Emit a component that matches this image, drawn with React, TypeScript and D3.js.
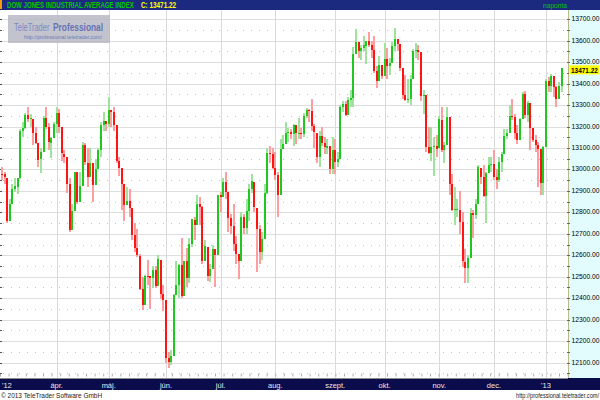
import React from 'react';
import * as d3 from 'd3';

// month tick labels (Hungarian) and the index of the first trading day of each month
const monthLabels = ["'12", 'ápr.', 'máj.', 'jún.', 'júl.', 'aug.', 'szept.', 'okt.', 'nov.', 'dec.', "'13"];
const monthStarts = [0, 22, 42, 64, 85, 106, 129, 148, 169, 190, 210];

const yTicks = [13700, 13600, 13500, 13400, 13300, 13200, 13100, 13000, 12900, 12800, 12700, 12600, 12500, 12400, 12300, 12200, 12100];

const lastClose = 13471.22;

// daily OHLC, Mar 2012 .. Jan 10 2013 (one line per month)
const opens = [
  12952, 12980, 12977, 12962, 12760, 12838, 12907, 12920, 12960, 13178, 13194, 13253, 13233, 13237, 13170, 13124, 13047, 13082, 13242, 13197, 13125, 13146,
  13212, 13264, 13199, 13074, 13060, 12930, 12716, 12806, 12986, 12850, 12922, 13115, 13032, 12965, 13028, 12928, 13002, 13091, 13205, 13228,
  13214, 13278, 13268, 13206, 13038, 13008, 12931, 12835, 12855, 12820, 12695, 12632, 12598, 12442, 12369, 12504, 12502, 12496, 12530, 12455, 12580, 12420,
  12392, 12119, 12101, 12128, 12415, 12460, 12554, 12412, 12574, 12496, 12652, 12766, 12742, 12837, 12824, 12574, 12640, 12502, 12535, 12627, 12602,
  12880, 12871, 12943, 12896, 12772, 12736, 12653, 12604, 12573, 12776, 12727, 12805, 12909, 12943, 12822, 12721, 12617, 12676, 12888, 13076, 13073,
  13009, 12975, 12879, 13096, 13118, 13168, 13175, 13165, 13207, 13169, 13172, 13165, 13250, 13275, 13271, 13203, 13172, 13056, 13158, 13124, 13102, 13107, 13000,
  13091, 13035, 13047, 13292, 13306, 13254, 13324, 13333, 13540, 13593, 13552, 13565, 13577, 13597, 13579, 13559, 13457, 13414, 13485,
  13437, 13515, 13482, 13494, 13575, 13610, 13583, 13473, 13345, 13326, 13329, 13424, 13552, 13557, 13548, 13343, 13345, 13103, 13078, 13103, 13107,
  13099, 13232, 13092, 13113, 13245, 12932, 12811, 12815, 12813, 12756, 12570, 12542, 12589, 12795, 12788, 12837, 13009, 12967, 12878, 12985, 13022,
  13026, 12966, 12952, 13034, 13074, 13155, 13170, 13248, 13245, 13170, 13135, 13236, 13351, 13252, 13311, 13191, 13139, 13114, 13096, 12938,
  13104, 13413, 13391, 13435, 13384, 13329, 13391,
];
const highs = [
  13030, 13010, 12990, 12962, 12860, 12930, 12960, 12960, 13190, 13220, 13265, 13290, 13260, 13237, 13200, 13124, 13100, 13250, 13290, 13215, 13150, 13220,
  13290, 13284, 13199, 13090, 13060, 12960, 12840, 12990, 12986, 12990, 13130, 13125, 13100, 13100, 13028, 13050, 13100, 13220, 13270, 13228,
  13338, 13278, 13290, 13206, 13060, 13008, 12931, 12920, 12910, 12820, 12750, 12722, 12605, 12500, 12510, 12580, 12502, 12550, 12550, 12600, 12580, 12460,
  12392, 12150, 12160, 12420, 12575, 12560, 12680, 12575, 12635, 12680, 12770, 12780, 12880, 12870, 12830, 12670, 12640, 12560, 12650, 12627, 12880,
  12895, 12960, 12990, 12896, 12790, 12840, 12690, 12604, 12800, 12790, 12860, 12930, 12980, 12943, 12822, 12740, 12710, 12930, 13100, 13110, 13100,
  13080, 12990, 13140, 13160, 13220, 13195, 13190, 13210, 13207, 13240, 13195, 13265, 13285, 13280, 13330, 13210, 13172, 13180, 13200, 13150, 13140, 13107, 13150,
  13140, 13080, 13300, 13320, 13320, 13340, 13370, 13570, 13653, 13593, 13580, 13620, 13600, 13640, 13600, 13620, 13480, 13530, 13485,
  13590, 13567, 13520, 13594, 13661, 13610, 13583, 13473, 13440, 13420, 13440, 13560, 13590, 13580, 13548, 13370, 13345, 13200, 13200, 13150, 13160,
  13250, 13290, 13130, 13290, 13245, 12980, 12920, 12860, 12900, 12800, 12630, 12600, 12820, 12810, 12860, 13020, 13009, 13020, 12990, 13060, 13060,
  13090, 13000, 13060, 13080, 13190, 13190, 13300, 13330, 13260, 13205, 13240, 13360, 13365, 13320, 13311, 13191, 13160, 13130, 13096, 13110,
  13420, 13430, 13445, 13435, 13390, 13410, 13475,
];
const lows = [
  12952, 12950, 12930, 12750, 12760, 12838, 12895, 12885, 12955, 13150, 13190, 13220, 13200, 13115, 13120, 13010, 12985, 13082, 13190, 13090, 13055, 13146,
  13170, 13170, 13040, 13030, 12890, 12710, 12716, 12806, 12840, 12850, 12922, 13020, 12920, 12965, 12850, 12928, 13002, 13060, 13180, 13180,
  13198, 13200, 13180, 13030, 12970, 12810, 12760, 12835, 12780, 12670, 12615, 12590, 12440, 12345, 12369, 12460, 12350, 12446, 12445, 12455, 12395, 12340,
  12100, 12075, 12090, 12128, 12415, 12400, 12400, 12410, 12450, 12470, 12640, 12670, 12742, 12740, 12560, 12574, 12480, 12475, 12535, 12450, 12602,
  12800, 12871, 12860, 12710, 12700, 12620, 12560, 12490, 12573, 12700, 12700, 12760, 12890, 12800, 12520, 12560, 12580, 12676, 12885, 13030, 13000,
  12950, 12780, 12879, 13096, 13118, 13130, 13140, 13110, 13120, 13140, 13140, 13150, 13240, 13220, 13180, 13100, 13030, 13010, 13110, 13070, 13070, 12980, 12980,
  12980, 13010, 13047, 13270, 13250, 13254, 13290, 13290, 13540, 13520, 13510, 13550, 13490, 13570, 13520, 13450, 13380, 13414, 13420,
  13437, 13420, 13440, 13494, 13552, 13550, 13460, 13330, 13320, 13310, 13300, 13424, 13520, 13510, 13320, 13260, 13080, 13070, 13040, 12970, 13060,
  13099, 13080, 13030, 13113, 12880, 12805, 12740, 12780, 12700, 12545, 12472, 12470, 12589, 12680, 12770, 12837, 12930, 12870, 12750, 12985, 12990,
  12950, 12910, 12940, 12990, 13070, 13140, 13170, 13230, 13140, 13120, 13135, 13236, 13240, 13220, 13090, 13130, 13080, 12920, 12883, 12880,
  13104, 13360, 13360, 13340, 13290, 13329, 13360,
];
const closes = [
  12980, 12978, 12963, 12759, 12837, 12908, 12922, 12960, 13178, 13194, 13253, 13233, 13239, 13170, 13125, 13046, 13081, 13242, 13198, 13126, 13146, 13212,
  13264, 13200, 13075, 13060, 12930, 12716, 12805, 12987, 12850, 12921, 13116, 13033, 12964, 13029, 12927, 13002, 13091, 13205, 13228, 13214,
  13279, 13269, 13207, 13038, 13009, 12932, 12835, 12855, 12821, 12695, 12632, 12599, 12442, 12369, 12504, 12503, 12496, 12530, 12455, 12581, 12420, 12393,
  12119, 12101, 12128, 12415, 12461, 12554, 12411, 12574, 12496, 12652, 12767, 12742, 12837, 12824, 12574, 12641, 12503, 12535, 12627, 12602, 12880,
  12871, 12943, 12897, 12772, 12736, 12653, 12605, 12573, 12777, 12727, 12806, 12909, 12944, 12823, 12721, 12617, 12676, 12888, 13076, 13073, 13009,
  12976, 12879, 13096, 13118, 13169, 13176, 13165, 13208, 13169, 13172, 13165, 13250, 13275, 13272, 13204, 13173, 13057, 13158, 13125, 13103, 13107, 13001, 13091,
  13036, 13047, 13292, 13307, 13254, 13323, 13333, 13540, 13593, 13553, 13565, 13578, 13597, 13579, 13559, 13458, 13414, 13486, 13437,
  13515, 13482, 13495, 13575, 13610, 13584, 13474, 13345, 13326, 13329, 13424, 13552, 13557, 13549, 13344, 13346, 13103, 13077, 13104, 13107, 13096,
  13233, 13093, 13112, 13246, 12933, 12811, 12815, 12815, 12756, 12571, 12542, 12588, 12796, 12789, 12837, 13010, 12967, 12878, 12985, 13022, 13026,
  12966, 12952, 13034, 13074, 13155, 13170, 13248, 13245, 13171, 13135, 13235, 13351, 13252, 13312, 13191, 13139, 13115, 13096, 12938, 13104,
  13413, 13391, 13435, 13384, 13329, 13391, 13471,
];

const FONT = '"Liberation Sans", Arial, sans-serif';

// text squeezed horizontally, the original uses a narrow bitmap font
const Squeezed: React.FC<{
  x: number; y: number; sx: number; size: number; fill: string;
  bold?: boolean; anchor?: 'start' | 'middle' | 'end'; children: React.ReactNode;
}> = ({ x, y, sx, size, fill, bold, anchor = 'start', children }) => (
  <text transform={`translate(${x},${y}) scale(${sx},1)`} textAnchor={anchor}
    fontFamily={FONT} fontSize={size} fontWeight={bold ? 'bold' : 'normal'} fill={fill}>
    {children}
  </text>
);

const App: React.FC = () => {
  const width = 600;
  const height = 400;
  const plotTop = 10;
  const plotBottom = 378;
  const plotRight = 568;

  const x = d3.scaleLinear().domain([0, closes.length - 1]).range([-0.6, 561.6]);
  const y = d3.scaleLinear().domain([12100, 13700]).range([362.5, 19.3]);

  const majorLevels = d3.range(12000, 13801, 100);
  const minorLevels = d3.range(12050, 13751, 100);
  const crisp = (v: number) => Math.round(v) + 0.5;
  const yLast = y(lastClose);
  const lastLabel = lastClose.toFixed(2);

  return (
    <svg width={width} height={height} style={{ display: 'block', position: 'absolute', left: 0, top: 0 }}>
      <defs>
        <clipPath id="plot-clip">
          <rect x={0} y={plotTop} width={plotRight} height={plotBottom - plotTop} />
        </clipPath>
      </defs>
      <rect width={width} height={height} fill="#fff" />

      {/* grid */}
      <g clipPath="url(#plot-clip)">
        {majorLevels.map(v => (
          <line key={'h' + v} x1={0} x2={plotRight} y1={crisp(y(v))} y2={crisp(y(v))} stroke="#dedede" />
        ))}
        {minorLevels.map(v => (
          <line key={'m' + v} x1={3} x2={plotRight} y1={crisp(y(v))} y2={crisp(y(v))}
            stroke="#c4c4c4" strokeDasharray="1,7" />
        ))}
        {monthStarts.map(i => (
          <line key={'v' + i} x1={crisp(x(i))} x2={crisp(x(i))} y1={plotTop} y2={plotBottom} stroke="#dadada" />
        ))}
        {/* small ticks along the bottom and left edge */}
        <line x1={0} x2={plotRight} y1={375} y2={375} stroke="#b0b0b0" strokeWidth={3} strokeDasharray="1,7.6" />
        {minorLevels.concat(majorLevels).map(v => (
          <line key={'t' + v} x1={0} x2={2} y1={crisp(y(v))} y2={crisp(y(v))} stroke="#555" />
        ))}

        {/* candles */}
        {closes.map((c, i) => {
          const o = opens[i];
          const up = c >= o;
          const bx = Math.round(x(i)) - 1;
          const top = Math.round(y(Math.max(o, c)));
          const bot = Math.round(y(Math.min(o, c)));
          const hi = Math.round(y(highs[i]));
          const lo = Math.round(y(lows[i]));
          return (
            <g key={'c' + i}>
              <rect x={bx} y={hi} width={2} height={Math.max(1, lo - hi)} fill={up ? '#9fe39f' : '#ff9e9e'} />
              <rect x={bx} y={top} width={2} height={Math.max(1, bot - top)} fill={up ? '#1ec81e' : '#ff1414'} />
            </g>
          );
        })}
      </g>

      {/* logo box */}
      <rect x={8} y={15} width={102} height={28} fill="#b8b8c4" opacity={0.85} />
      <Squeezed x={14} y={31} sx={0.68} size={11} fill="#7b88c2">TeleTrader</Squeezed>
      <Squeezed x={53} y={31} sx={0.76} size={11} fill="#6673b6" bold>Professional</Squeezed>
      <Squeezed x={24} y={38.5} sx={0.88} size={6} fill="#6c7ab8">http://professional.teletrader.com/</Squeezed>

      {/* right value axis */}
      <rect x={plotRight + 1} y={plotTop} width={width - plotRight - 1} height={plotBottom - plotTop} fill="#e2fbfd" />
      <line x1={plotRight + 0.5} x2={plotRight + 0.5} y1={plotTop} y2={plotBottom} stroke="#b9b98e" />
      {minorLevels.concat(majorLevels).map(v => (
        <line key={'rt' + v} x1={plotRight - 1} x2={plotRight + 2} y1={crisp(y(v))} y2={crisp(y(v))} stroke="#666" />
      ))}
      {yTicks.map(v => (
        <Squeezed key={'yl' + v} x={571.5} y={y(v) + 2} sx={0.84} size={8} fill="#000">
          {v.toFixed(2)}
        </Squeezed>
      ))}
      <rect x={plotRight + 1} y={yLast - 3} width={30} height={9} fill="#ffff00" />
      <Squeezed x={571} y={yLast + 4.7} sx={0.86} size={7.5} fill="#000" bold>{lastLabel}</Squeezed>

      {/* header */}
      <rect x={0} y={0} width={width} height={plotTop} fill="#1b2a7e" />
      <rect x={0} y={0} width={2} height={9} fill="#f59a00" />
      <Squeezed x={7} y={8} sx={0.717} size={8.5} fill="#00c800" bold>DOW JONES INDUSTRIAL AVERAGE INDEX</Squeezed>
      <Squeezed x={141} y={8} sx={0.75} size={8.5} fill="#ffff00" bold>{`C: ${lastLabel}`}</Squeezed>
      <Squeezed x={543} y={8} sx={0.83} size={8} fill="#00c800">naponta</Squeezed>

      {/* time axis */}
      <rect x={0} y={plotBottom} width={width} height={12} fill="#0b0c4c" />
      <line x1={0} x2={plotRight} y1={plotBottom + 0.5} y2={plotBottom + 0.5} stroke="#8a8a8a" />
      {monthStarts.map((i, k) => (
        <text key={'xl' + i} x={k === 0 ? 2 : x(i)} y={387.5} textAnchor={k === 0 ? 'start' : 'middle'}
          fontFamily={FONT} fontSize={7.5} fill="#e8e8e8">
          {monthLabels[k]}
        </text>
      ))}

      {/* footer */}
      <Squeezed x={1} y={398} sx={0.81} size={8} fill="#222">© 2013 TeleTrader Software GmbH</Squeezed>
      <Squeezed x={599} y={398} sx={0.75} size={7.5} fill="#222" anchor="end">http://professional.teletrader.com/</Squeezed>
    </svg>
  );
};

export default App;
